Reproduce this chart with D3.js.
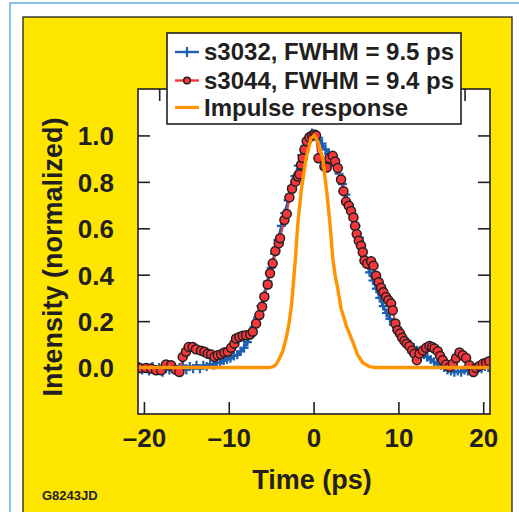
<!DOCTYPE html>
<html>
<head>
<meta charset="utf-8">
<script src="https://cdn.jsdelivr.net/npm/d3@7"></script>
<style>
  html, body { margin: 0; padding: 0; background: #fff; }
  svg { display: block; }
  text { font-family: "Liberation Sans", Arial, Helvetica, sans-serif; font-weight: bold; fill: #231F20; }
</style>
</head>
<body>
<script>
// ---------------- DATA ----------------
const xTicks = [-20, -10, 0, 10, 20];
const xTickLabels = ["\u201320", "\u201310", "0", "10", "20"];
const yTicks = [0, 0.2, 0.4, 0.6, 0.8, 1.0];
const yTickLabels = ["0.0", "0.2", "0.4", "0.6", "0.8", "1.0"];
const topTicks = [-18.2, -9.2, -0.2, 8.8, 17.8];

const seriesNames = ["s3032, FWHM = 9.5 ps", "s3044, FWHM = 9.4 ps", "Impulse response"];

// s3032 (blue, + markers): [time ps, intensity]
const s3032 = [
  [-20.6, 0.005], [-20.2, -0.01], [-19.8, 0.0], [-19.4, -0.015], [-19.0, 0.005], [-18.6, -0.01],
  [-18.2, 0.0], [-17.8, -0.02], [-17.4, 0.0], [-17.0, -0.01], [-16.6, 0.005], [-16.2, -0.015],
  [-15.8, 0.0], [-15.4, 0.01], [-15.0, -0.01], [-14.6, 0.005], [-14.2, -0.005], [-13.8, 0.01],
  [-13.4, -0.005], [-13.0, 0.01], [-12.6, 0.005], [-12.2, 0.015], [-11.8, 0.01], [-11.4, 0.02],
  [-11.0, 0.02], [-10.6, 0.03], [-10.2, 0.035], [-9.8, 0.04], [-9.4, 0.05], [-9.0, 0.055],
  [-8.6, 0.07], [-8.2, 0.085], [-7.8, 0.11], [-7.4, 0.14], [-7.0, 0.175], [-6.6, 0.215],
  [-6.2, 0.265], [-5.8, 0.315], [-5.4, 0.37], [-5.0, 0.43], [-4.6, 0.49], [-4.2, 0.55],
  [-3.8, 0.61], [-3.4, 0.665], [-3.0, 0.72], [-2.6, 0.78], [-2.2, 0.825], [-1.8, 0.87],
  [-1.4, 0.915], [-1.0, 0.955], [-0.6, 0.99], [-0.2, 1.01], [0.2, 1.0], [0.6, 0.99],
  [1.0, 0.965], [1.4, 0.94], [1.8, 0.92], [2.2, 0.905], [2.6, 0.87], [3.0, 0.835],
  [3.4, 0.79], [3.8, 0.745], [4.2, 0.7], [4.6, 0.66], [5.0, 0.61], [5.4, 0.56],
  [5.8, 0.505], [6.2, 0.455], [6.6, 0.41], [7.0, 0.375], [7.4, 0.34], [7.8, 0.3],
  [8.2, 0.265], [8.6, 0.235], [9.0, 0.21], [9.4, 0.185], [9.8, 0.16], [10.2, 0.14],
  [10.6, 0.125], [11.0, 0.11], [11.4, 0.1], [11.8, 0.085], [12.2, 0.075], [12.6, 0.065],
  [13.0, 0.055], [13.4, 0.045], [13.8, 0.035], [14.2, 0.025], [14.6, 0.015], [15.0, 0.01],
  [15.4, 0.0], [15.8, -0.01], [16.2, -0.015], [16.6, -0.02], [17.0, -0.015], [17.4, -0.02],
  [17.8, -0.01], [18.2, -0.015], [18.6, -0.005], [19.0, -0.01], [19.4, 0.0], [19.8, -0.005],
  [20.2, 0.005], [20.6, 0.0]
];

// s3044 (red, circle markers): [time ps, intensity]
const s3044 = [
  [-20.46, -0.002], [-19.75, -0.002], [-19.16, -0.004], [-18.57, -0.012], [-17.98, -0.012],
  [-17.39, 0.013], [-16.8, 0.01], [-16.29, -0.009], [-15.82, -0.019], [-15.43, 0.046],
  [-15.04, 0.068], [-14.72, 0.089], [-14.25, 0.089], [-13.86, 0.079], [-13.27, 0.073],
  [-12.87, 0.068], [-12.48, 0.06], [-12.09, 0.056], [-11.69, 0.046], [-11.3, 0.053],
  [-10.91, 0.057], [-10.52, 0.065], [-10.12, 0.068], [-9.73, 0.085], [-9.34, 0.103],
  [-9.14, 0.125], [-8.75, 0.132], [-8.35, 0.137], [-7.96, 0.139], [-7.49, 0.142],
  [-7.17, 0.154], [-6.78, 0.19], [-6.39, 0.226], [-6.07, 0.262], [-5.8, 0.305],
  [-5.41, 0.358], [-5.13, 0.406], [-4.82, 0.449], [-4.5, 0.502], [-4.11, 0.535],
  [-3.95, 0.557], [-3.44, 0.636], [-3.16, 0.662], [-2.85, 0.733], [-2.54, 0.77],
  [-2.14, 0.801], [-1.87, 0.823], [-1.67, 0.833], [-1.47, 0.874], [-1.28, 0.903],
  [-1.08, 0.939], [-0.81, 0.975], [-0.49, 0.992], [-0.18, 1.0], [0.1, 1.004],
  [0.29, 1.0], [0.57, 0.902], [1.28, 0.866], [1.55, 0.862], [1.87, 0.902],
  [2.26, 0.912], [2.54, 0.888], [2.85, 0.86], [3.24, 0.81], [3.52, 0.76],
  [3.83, 0.715], [4.15, 0.697], [4.42, 0.675], [4.7, 0.647], [4.89, 0.61],
  [5.09, 0.575], [5.33, 0.546], [5.6, 0.525], [5.8, 0.497], [6.0, 0.461],
  [6.31, 0.447], [6.78, 0.458], [7.06, 0.439], [7.37, 0.396], [7.68, 0.368],
  [7.96, 0.344], [8.23, 0.325], [8.55, 0.304], [8.82, 0.29], [9.14, 0.276],
  [9.33, 0.247], [9.65, 0.19], [9.92, 0.161], [10.2, 0.147], [10.44, 0.129],
  [10.71, 0.115], [10.99, 0.103], [11.3, 0.092], [11.62, 0.074], [11.89, 0.06],
  [12.17, 0.032], [12.48, 0.06], [12.87, 0.074], [13.27, 0.085], [13.66, 0.093],
  [13.97, 0.089], [14.25, 0.082], [14.64, 0.07], [14.92, 0.05], [15.23, 0.032],
  [15.63, 0.013], [16.02, 0.003], [16.41, 0.016], [16.8, 0.041], [17.2, 0.065],
  [17.59, 0.053], [17.98, 0.041], [18.38, 0.01], [18.85, -0.019], [19.16, -0.002],
  [19.56, 0.007], [19.95, 0.016], [20.34, 0.021], [20.7, 0.027]
];

// Impulse response (orange line): [time ps, intensity]
const impulse = [
  [-20.7, 0], [-10.0, 0], [-5.4, 0], [-4.82, 0.003], [-4.42, 0.013], [-4.03, 0.039],
  [-3.64, 0.07], [-3.24, 0.125], [-2.93, 0.183], [-2.65, 0.255], [-2.46, 0.327],
  [-2.3, 0.399], [-2.14, 0.47], [-1.87, 0.614], [-1.47, 0.758], [-0.88, 0.902],
  [-0.29, 0.989], [0.1, 1.0], [0.49, 0.974], [1.08, 0.902], [1.55, 0.758],
  [1.95, 0.614], [2.26, 0.47], [2.57, 0.391], [2.85, 0.341], [3.24, 0.255],
  [3.83, 0.183], [4.62, 0.111], [5.21, 0.053], [5.8, 0.021], [6.58, 0.004],
  [7.37, 0], [14.0, 0], [20.8, 0]
];

// ---------------- CHART ----------------
const W = 519, H = 512;
const svg = d3.select("body").append("svg").attr("width", W).attr("height", H);

// outer light-blue panel edge
svg.append("rect").attr("x", 10).attr("y", 3).attr("width", 540).attr("height", 540)
  .attr("fill", "#fff").attr("stroke", "#4BA3DC").attr("stroke-width", 1.3);
// yellow box
svg.append("rect").attr("x", 23).attr("y", 17).attr("width", 489).attr("height", 520)
  .attr("fill", "#FFE600").attr("stroke", "#231F20").attr("stroke-width", 1.3);

const plot = { left: 138, top: 89, right: 490, bottom: 414 };
const x = d3.scaleLinear().domain([-20.7, 20.8]).range([plot.left, plot.right]);
const y = d3.scaleLinear().domain([-0.2, 1.2]).range([plot.bottom, plot.top]);

svg.append("rect").attr("x", plot.left).attr("y", plot.top)
  .attr("width", plot.right - plot.left).attr("height", plot.bottom - plot.top)
  .attr("fill", "#fff");

const defs = svg.append("defs");
defs.append("clipPath").attr("id", "clip").append("rect")
  .attr("x", plot.left).attr("y", plot.top)
  .attr("width", plot.right - plot.left).attr("height", plot.bottom - plot.top);

// axes (ticks inward)
const tickLen = 12;
const axB = svg.append("g").attr("transform", `translate(0,${plot.bottom})`)
  .call(d3.axisBottom(x).tickValues(xTicks).tickSize(-tickLen).tickFormat((d, i) => xTickLabels[i]));
const axT = svg.append("g").attr("transform", `translate(0,${plot.top})`)
  .call(d3.axisTop(x).tickValues(topTicks).tickSize(-tickLen).tickFormat(""));
const axL = svg.append("g").attr("transform", `translate(${plot.left},0)`)
  .call(d3.axisLeft(y).tickValues(yTicks).tickSize(-tickLen).tickFormat((d, i) => yTickLabels[i]).tickPadding(tickLen + 12));
const axR = svg.append("g").attr("transform", `translate(${plot.right},0)`)
  .call(d3.axisRight(y).tickValues(yTicks).tickSize(-tickLen).tickFormat(""));

[axB, axT, axL, axR].forEach(a => {
  a.select(".domain").remove();
  a.selectAll(".tick line").attr("stroke", "#231F20").attr("stroke-width", 1.6);
  a.selectAll("text").attr("fill", "#231F20")
    .style("font-family", '"Liberation Sans", Arial, sans-serif')
    .style("font-weight", "bold").style("font-size", "26px");
});
axB.selectAll("text").attr("dy", null).attr("y", 33);
axL.selectAll("text").attr("dy", "0.36em");

// data layer
const g = svg.append("g").attr("clip-path", "url(#clip)");
const line = d3.line().x(d => x(d[0])).y(d => y(d[1]));

const BLUE = "#1D5FB0", RED = "#F5373C", ORANGE = "#FF9300";

// s3032
g.append("path").datum(s3032).attr("d", line).attr("fill", "none")
  .attr("stroke", BLUE).attr("stroke-width", 2.6);
g.selectAll("path.bp").data(s3032).join("path").attr("class", "bp")
  .attr("d", "M-4.5,0H4.5M0,-4.5V4.5")
  .attr("transform", d => `translate(${x(d[0])},${y(d[1])})`)
  .attr("stroke", BLUE).attr("stroke-width", 2.2).attr("fill", "none");

// s3044
g.append("path").datum(s3044).attr("d", line).attr("fill", "none")
  .attr("stroke", RED).attr("stroke-width", 2);
g.selectAll("circle.rc").data(s3044).join("circle").attr("class", "rc")
  .attr("cx", d => x(d[0])).attr("cy", d => y(d[1])).attr("r", 4.5)
  .attr("fill", RED).attr("stroke", "#231F20").attr("stroke-width", 1.5);

// impulse
g.append("path").datum(impulse).attr("d", line).attr("fill", "none")
  .attr("stroke", ORANGE).attr("stroke-width", 3.4).attr("stroke-linejoin", "round");

// plot frame
svg.append("rect").attr("x", plot.left).attr("y", plot.top)
  .attr("width", plot.right - plot.left).attr("height", plot.bottom - plot.top)
  .attr("fill", "none").attr("stroke", "#231F20").attr("stroke-width", 1.6);

// legend
const lg = svg.append("g");
lg.append("rect").attr("x", 167).attr("y", 33).attr("width", 294).attr("height", 91)
  .attr("fill", "#fff").attr("stroke", "#231F20").attr("stroke-width", 1.6);
const rowsY = [52, 80.5, 107.5];
const colors = [BLUE, RED, ORANGE];
seriesNames.forEach((name, i) => {
  const ry = rowsY[i];
  lg.append("line").attr("x1", 175).attr("x2", 199).attr("y1", ry).attr("y2", ry)
    .attr("stroke", colors[i]).attr("stroke-width", i === 2 ? 3.2 : 2.4);
  if (i === 0) {
    lg.append("path").attr("d", "M0,-5V5").attr("transform", `translate(187,${ry})`)
      .attr("stroke", BLUE).attr("stroke-width", 2.2);
  }
  if (i === 1) {
    lg.append("circle").attr("cx", 187).attr("cy", ry).attr("r", 3.3)
      .attr("fill", RED).attr("stroke", "#231F20").attr("stroke-width", 1.5);
  }
  lg.append("text").attr("x", 204).attr("y", ry + 8.3).style("font-size", "24px").text(name);
});

// axis titles
svg.append("text").attr("x", 312).attr("y", 489).attr("text-anchor", "middle")
  .style("font-size", "27px").text("Time (ps)");
svg.append("text").attr("transform", "translate(62,257) rotate(-90)").attr("text-anchor", "middle")
  .style("font-size", "27px").text("Intensity (normalized)");

// figure id
svg.append("text").attr("x", 42).attr("y", 500).style("font-size", "13px").text("G8243JD");
</script>
</body>
</html>
